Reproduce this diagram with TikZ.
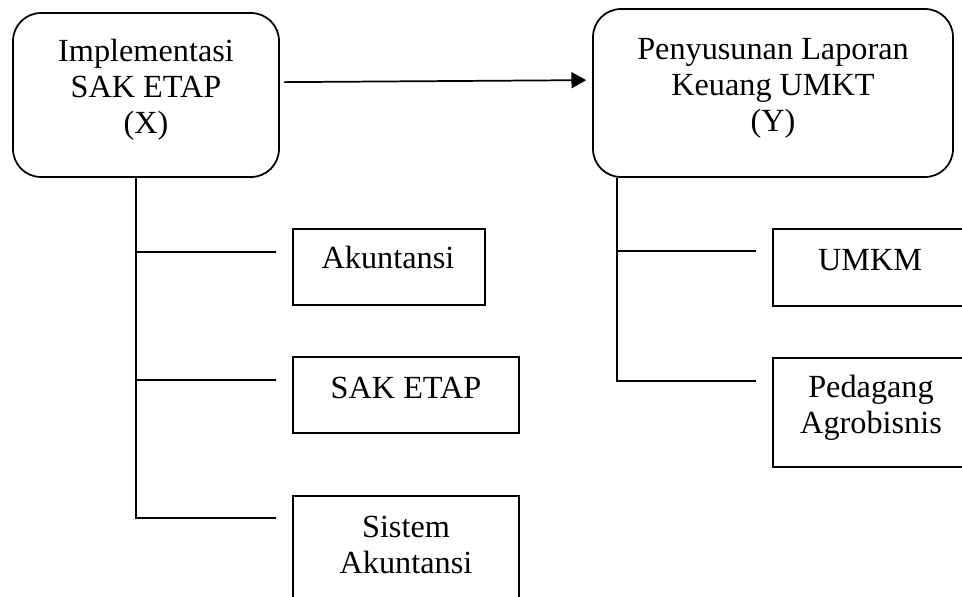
\documentclass[tikz,border=0pt]{standalone}
\usepackage{fontspec}
\setmainfont{Liberation Serif}
\usetikzlibrary{calc,arrows.meta}
\begin{document}
\begin{tikzpicture}[x=0.75pt,y=-0.75pt,
  line width=1.3pt,
  rbox/.style={draw, line width=1.3pt, rounded corners=21pt, inner sep=0pt},
  sbox/.style={draw, line width=1.3pt, inner sep=0pt},
  txt/.style={font=\fontsize{24.2pt}{27pt}\selectfont, align=center, inner sep=0pt, anchor=base},
  conn/.style={line width=1.3pt},
  arr/.style={line width=1.3pt, -{Triangle[length=11pt,width=12pt]}}]
\useasboundingbox (0,0) rectangle (962,596);
\clip (0,0) rectangle (962,596);
\fill[white] (0,0) rectangle (962,596);

% main boxes
\node[rbox, minimum width=199.5pt, minimum height=123pt] (X) at (146,95) {};
\node[rbox, minimum width=270pt, minimum height=126pt] (Y) at (773,93) {};
\node[txt] (Xt) at (146,133) {Implementasi\\SAK ETAP\\(X)};
\node[txt] (Yt) at (773,131) {Penyusunan Laporan\\Keuang UMKT\\(Y)};

% sub boxes left
\node[sbox, minimum width=144pt, minimum height=57pt] (A) at (389,267) {};
\node[sbox, minimum width=169.5pt, minimum height=57pt] (S) at (406,395) {};
\node[sbox, minimum width=169.5pt, minimum height=82.5pt] (SA) at (406,551) {};
\node[txt] (At) at (388,268) {Akuntansi};
\node[txt] (St) at (406,398) {SAK ETAP};
\node[txt] (SAt) at (406,573) {Sistem\\Akuntansi};

% sub boxes right
\node[sbox, minimum width=145.5pt, minimum height=57.75pt] (U) at (870,267.5) {};
\node[sbox, minimum width=147pt, minimum height=81.75pt] (P) at (871,412.5) {};
\node[txt] (Ut) at (870,270) {UMKM};
\node[txt] (Pt) at (871,433) {Pedagang\\Agrobisnis};

% arrow
\draw[arr] ($(X.north east)+(4,70)$) -- ($(Y.north west)+(-6,72)$);

% trunks
\coordinate (lt) at ($(X.south west)+(124,0)$);
\coordinate (rt) at ($(Y.south west)+(25,0)$);
\draw[conn] ($(A.north west)+(-16,24)$) -| (lt);
\draw[conn] ($(S.north west)+(-16,24)$) -| (lt);
\draw[conn] ($(SA.north west)+(-16,23)$) -| (lt);
\draw[conn] ($(U.north west)+(-16,23)$) -| (rt);
\draw[conn] ($(P.north west)+(-16,24)$) -| (rt);
\end{tikzpicture}
\end{document}
